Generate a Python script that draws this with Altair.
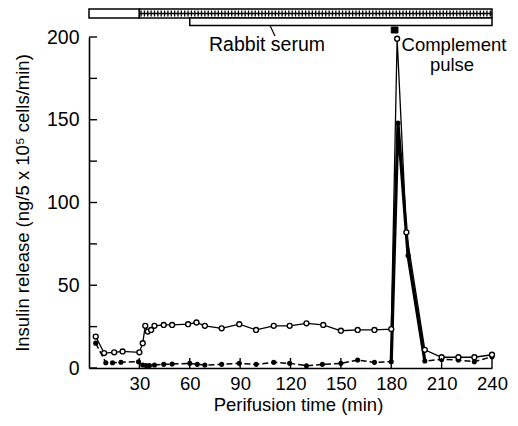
import altair as alt
import pandas as pd

# Open circles (upper trace)
open_t = [4, 9, 15, 20, 30, 32, 33.5, 35, 37, 39, 44.5, 49.5, 59, 64, 69, 79, 89.5,
          99.5, 110, 119.5, 129.5, 139.5, 150, 160, 170, 180, 183.5, 189, 200, 210,
          220, 229.5, 240]
open_v = [19, 9, 9.5, 10, 9.5, 15, 25.5, 22, 23, 25.5, 26, 26, 26.5, 27.5, 25.5, 24,
          26.5, 23, 25.5, 25.5, 27, 26, 22.5, 23, 23, 23.5, 199, 82, 11, 6.5, 6.5,
          6.5, 8]

# Filled circles (lower trace)
filled_t = [4, 10, 14, 19, 29.5, 32, 34, 36, 39, 44.5, 49.5, 60, 64.5, 69, 79, 89.5,
            99.5, 110, 119.5, 129.5, 139, 150, 160, 170, 180, 184, 190, 200, 210, 220,
            229.5, 240]
filled_v = [15, 3.2, 3.2, 3.5, 3.8, 1.8, 1.5, 1.5, 1.8, 2.2, 2.4, 2.8, 2.2, 1.8, 2.2,
            2.8, 2.2, 3.4, 2.8, 1.4, 2.2, 2.8, 4.8, 3.4, 3.8, 148, 68, 4.2, 5.2, 4.8,
            3.8, 6.8]

x_ticks = [30, 60, 90, 120, 150, 180, 210, 240]
y_ticks = [0, 25, 50, 75, 100, 125, 150, 175, 200]
y_labels = [0, 50, 100, 150, 200]

# Treatment periods shown as bars above the plot
period_start = [0, 30]
period_end = [30, 240]
hatch_start = [30]
hatch_end = [240]
serum_start = [60]
serum_end = [240]
pulse_start = [180]
pulse_end = [184]

FONT = "Liberation Sans"
xs = alt.Scale(domain=[0, 240], nice=False, zero=False)
ys = alt.Scale(domain=[0, 200], nice=False)

open_df = pd.DataFrame({"t": open_t, "v": open_v})
filled_df = pd.DataFrame({"t": filled_t, "v": filled_v})
spike_df = filled_df[(filled_df.t >= 180) & (filled_df.t <= 200)]

AX = alt.Axis(
    values=x_ticks, ticks=False, grid=False, domainColor="black", domainWidth=1.6,
    labelFont=FONT, labelFontSize=18.5, labelColor="black", labelPadding=6,
    labelFlush=False, labelOverlap=False,
    title="Perifusion time (min)", titleFont=FONT, titleFontSize=18.5,
    titleFontWeight="normal", titleColor="black", titlePadding=3, titleX=209)
AY = alt.Axis(
    values=y_labels, ticks=False, grid=False, domainColor="black", domainWidth=1.6,
    labelFont=FONT, labelFontSize=19.5, labelColor="black", labelPadding=10,
    labelFlush=False, labelOverlap=False,
    title="Insulin release (ng/5 x 10⁵ cells/min)", titleFont=FONT, titleFontSize=18.5,
    titleFontWeight="normal", titleColor="black", titlePadding=14)


def X(field="t"):
    return alt.X(f"{field}:Q", scale=xs, axis=AX)


def Y(field="v"):
    return alt.Y(f"{field}:Q", scale=ys, axis=AY)


filled_line = alt.Chart(filled_df).mark_line(
    color="black", strokeWidth=1.5, strokeDash=[6, 3]).encode(x=X(), y=Y(), order="t:Q")
spike_line = alt.Chart(spike_df).mark_line(
    color="black", strokeWidth=3.2).encode(x=X(), y=Y(), order="t:Q")
open_line = alt.Chart(open_df).mark_line(
    color="black", strokeWidth=1.3).encode(x=X(), y=Y(), order="t:Q")
open_pts = alt.Chart(open_df).mark_point(
    shape="circle", size=24, filled=True, fill="white", stroke="black",
    strokeWidth=1.4, opacity=1).encode(x=X(), y=Y())
filled_pts = alt.Chart(filled_df).mark_circle(
    size=26, color="black", opacity=1).encode(x=X(), y=Y())

xtick_df = pd.DataFrame({"t": x_ticks})
ytick_df = pd.DataFrame({"v": y_ticks})
xtick = alt.Chart(xtick_df).mark_rule(color="black", strokeWidth=1.4).encode(
    x=X(), y=alt.value(331), y2=alt.value(321))
ytick = alt.Chart(ytick_df).mark_rule(color="black", strokeWidth=1.4).encode(
    y=Y(), x=alt.value(0), x2=alt.value(8))

period_df = pd.DataFrame({"start": period_start, "end": period_end})
periods = alt.Chart(period_df).mark_rect(
    fill="white", stroke="black", strokeWidth=1.5).encode(
    x=X("start"), x2="end:Q", y=alt.value(-28), y2=alt.value(-19))
hatch_mid = alt.Chart(pd.DataFrame({"start": hatch_start, "end": hatch_end})).mark_rule(
    color="black", strokeWidth=1.3).encode(
    x=X("start"), x2="end:Q", y=alt.value(-23.5))
hatch = alt.Chart(alt.sequence(31, 240, 2, as_="t")).mark_rule(
    color="black", strokeWidth=1.3).encode(
    x=X(), y=alt.value(-26.5), y2=alt.value(-20.5))
serum = alt.Chart(pd.DataFrame({"start": serum_start, "end": serum_end})).mark_rect(
    fill="white", stroke="black", strokeWidth=1.5).encode(
    x=X("start"), x2="end:Q", y=alt.value(-19), y2=alt.value(-11.5))
pulse = alt.Chart(pd.DataFrame({"start": pulse_start, "end": pulse_end})).mark_rect(
    fill="black", stroke="black", strokeWidth=1).encode(
    x=X("start"), x2="end:Q", y=alt.value(-10), y2=alt.value(-4))

label_df = pd.DataFrame({"label": ["Rabbit serum"]})
serum_label = alt.Chart(label_df).mark_text(
    font=FONT, fontSize=19.5, color="black", align="center", baseline="alphabetic").encode(
    text="label:N", x=alt.value(178), y=alt.value(14))
leader = alt.Chart(label_df).mark_rule(color="black", strokeWidth=1.2).encode(
    x=alt.value(181), x2=alt.value(186), y=alt.value(-11.5), y2=alt.value(-1))
comp_label = alt.Chart(pd.DataFrame({"label": ["Complement"]})).mark_text(
    font=FONT, fontSize=18.5, color="black", align="center", baseline="alphabetic").encode(
    text="label:N", x=alt.value(365), y=alt.value(14))
pulse_label = alt.Chart(pd.DataFrame({"label": ["pulse"]})).mark_text(
    font=FONT, fontSize=18.5, color="black", align="center", baseline="alphabetic").encode(
    text="label:N", x=alt.value(363), y=alt.value(34))

chart = alt.layer(
    filled_line, spike_line, open_line, filled_pts, open_pts, xtick, ytick,
    periods, hatch_mid, hatch, serum, pulse, serum_label, leader, comp_label, pulse_label
).properties(
    width=403, height=331,
    padding={"left": 81, "top": 29, "right": 18, "bottom": 50},
    autosize="none", background="white"
).configure_view(stroke=None)

chart.save("out.html", embed_options={"renderer": "svg", "actions": False})
